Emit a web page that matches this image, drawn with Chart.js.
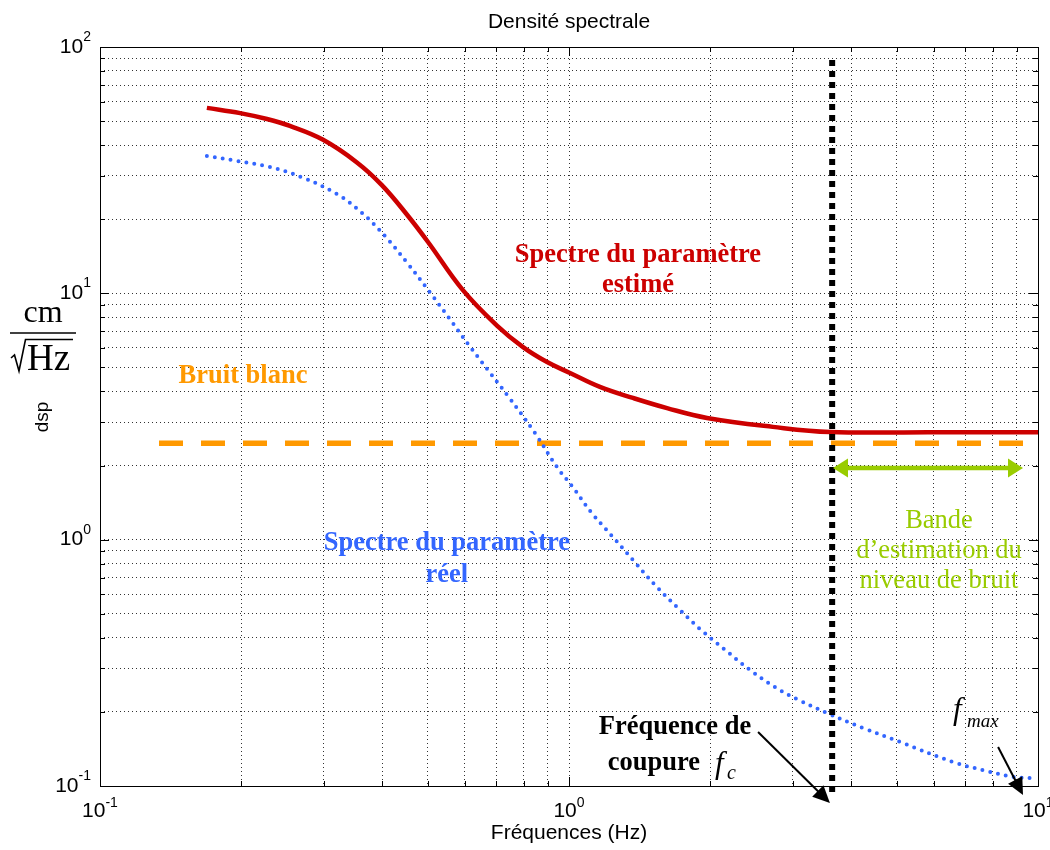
<!DOCTYPE html>
<html>
<head>
<meta charset="utf-8">
<title>Densité spectrale</title>
<script src="https://cdn.jsdelivr.net/npm/chart.js@4.4.1/dist/chart.umd.min.js"></script>
<style>
  html, body { margin: 0; padding: 0; background: #fff; }
</style>
</head>
<body>
<canvas id="dsp" width="1050" height="850"></canvas>
<script>
// spectre du paramètre estimé (Hz, cm/sqrt(Hz))
const estFreq = [0.169, 0.199, 0.227, 0.254, 0.299, 0.353, 0.399, 0.452, 0.500, 0.594, 0.702, 0.798, 0.898, 1.005, 1.164, 1.369, 1.618, 1.969, 2.72, 3.60, 5.86, 10];
const estDsp  = [56.6, 53.9, 51.0, 47.8, 42.0, 34.0, 27.5, 20.8, 16.2, 10.3, 7.4, 6.05, 5.26, 4.75, 4.17, 3.76, 3.42, 3.12, 2.87, 2.735, 2.73, 2.73];

// spectre du paramètre réel
const realFreq = [0.169, 0.197, 0.230, 0.268, 0.320, 0.362, 0.405, 0.449, 0.505, 0.555, 0.609, 0.669, 0.738, 0.846, 0.943, 1.015, 1.114, 1.235, 1.369, 1.518, 1.699, 1.902, 2.141, 2.420, 2.750, 3.062, 3.549, 4.236, 5.079, 6.59, 7.63, 8.85, 9.61];
const realDsp  = [36.1, 34.4, 32.6, 29.7, 25.3, 21.2, 17.1, 13.5, 10.1, 7.94, 6.23, 4.93, 3.87, 2.71, 1.97, 1.65, 1.295, 1.035, 0.827, 0.661, 0.533, 0.434, 0.360, 0.298, 0.252, 0.2254, 0.1978, 0.172, 0.151, 0.1251, 0.1161, 0.1088, 0.1077];

// bruit blanc
const whiteFreq = [0.1336, 9.29];
const whiteDsp  = [2.46, 2.46];

// fréquence de coupure fc
const cutFreq = [3.64, 3.64];
const cutDsp  = [88.5, 0.092];

// bande d'estimation du niveau de bruit
const bandFreq = [3.655, 9.29];
const bandDsp  = [1.954, 1.954];

// flèches (départ -> pointe)
const fcArrowFreq   = [2.53, 3.60];
const fcArrowDsp    = [0.1656, 0.0853];
const fmaxArrowFreq = [8.22, 9.29];
const fmaxArrowDsp  = [0.144, 0.0919];

// axes
const xDecades = [0.1, 1, 10];
const xExponents = ['-1', '0', '1'];
const yDecades = [0.1, 1, 10, 100];
const yExponents = ['-1', '0', '1', '2'];
const minorSteps = [1, 2, 3, 4, 5, 6, 7, 8, 9];

const pts = (xs, ys) => xs.map((x, i) => ({ x: x, y: ys[i] }));

function gridValues(decades) {
  const out = [];
  decades.forEach((d, i) => {
    if (i === decades.length - 1) { out.push(d); return; }
    minorSteps.forEach(m => out.push(+(d * m).toPrecision(6)));
  });
  return out;
}

const SANS = '"Liberation Sans", Arial, sans-serif';
const SERIF = '"Liberation Serif", "Times New Roman", serif';

// text labels drawn on the plot, anchored in data coordinates
const notes = [
  { lines: ['Spectre du paramètre', 'estimé'], f: 1.403, v: 14.31, color: '#cc0000', font: 'bold 26.5px ' + SERIF, lh: 30 },
  { lines: ['Spectre du paramètre', 'réel'], f: 0.549, v: 0.969, color: '#3366ff', font: 'bold 26.5px ' + SERIF, lh: 32 },
  { lines: ['Bruit blanc'], f: 0.2018, v: 4.62, color: '#ff9900', font: 'bold 26.5px ' + SERIF, lh: 30 },
  { lines: ['Bande', 'd\u2019estimation du', 'niveau de bruit'], f: 6.15, v: 1.19, color: '#99cc00', font: '26.5px ' + SERIF, lh: 30 }
];

function arrow(ctx, x0, y0, x1, y1, opt) {
  const a = Math.atan2(y1 - y0, x1 - x0);
  const c = Math.cos(a), s = Math.sin(a);
  const sx = opt.both ? x0 + c * opt.len : x0, sy = opt.both ? y0 + s * opt.len : y0;
  ctx.save();
  ctx.strokeStyle = opt.color;
  ctx.fillStyle = opt.color;
  ctx.lineWidth = opt.width;
  ctx.beginPath();
  ctx.moveTo(sx, sy);
  ctx.lineTo(x1 - c * opt.len * 0.9, y1 - s * opt.len * 0.9);
  ctx.stroke();
  const head = (tx, ty, dc, ds) => {
    ctx.beginPath();
    ctx.moveTo(tx, ty);
    ctx.lineTo(tx - dc * opt.len - ds * opt.half, ty - ds * opt.len + dc * opt.half);
    ctx.lineTo(tx - dc * opt.len + ds * opt.half, ty - ds * opt.len - dc * opt.half);
    ctx.closePath();
    ctx.fill();
  };
  head(x1, y1, c, s);
  if (opt.both) head(x0, y0, -c, -s);
  ctx.restore();
}

function powerLabel(ctx, x, y, exp, align, supDy) {
  ctx.font = '21px ' + SANS;
  const wb = ctx.measureText('10').width;
  ctx.font = '14px ' + SANS;
  const we = ctx.measureText(exp).width;
  const left = align === 'right' ? x - wb - we : x - (wb + we) / 2;
  ctx.textAlign = 'left';
  ctx.textBaseline = 'middle';
  ctx.font = '21px ' + SANS;
  ctx.fillText('10', left, y);
  ctx.font = '14px ' + SANS;
  ctx.fillText(exp, left + wb, y + supDy);
}

const matlabLook = {
  id: 'matlabLook',
  afterDatasetsDraw(chart) {
    const { ctx, chartArea: a, scales: { x, y } } = chart;
    ctx.save();
    // inward tick marks on the four sides
    ctx.strokeStyle = '#000';
    ctx.lineWidth = 1;
    ctx.beginPath();
    gridValues(xDecades).forEach(v => {
      const px = Math.round(x.getPixelForValue(v)) + 0.5;
      const len = xDecades.includes(v) ? 9 : 5;
      ctx.moveTo(px, a.bottom); ctx.lineTo(px, a.bottom - len);
      ctx.moveTo(px, a.top); ctx.lineTo(px, a.top + len);
    });
    gridValues(yDecades).forEach(v => {
      const py = Math.round(y.getPixelForValue(v)) + 0.5;
      const len = yDecades.includes(v) ? 9 : 5;
      ctx.moveTo(a.left, py); ctx.lineTo(a.left + len, py);
      ctx.moveTo(a.right, py); ctx.lineTo(a.right - len, py);
    });
    ctx.stroke();
    ctx.strokeRect(Math.round(a.left) + 0.5, Math.round(a.top) + 0.5, Math.round(a.right - a.left), Math.round(a.bottom - a.top));
    ctx.restore();

    // band arrow and the two black arrows
    const P = (f, v) => [x.getPixelForValue(f), y.getPixelForValue(v)];
    const b0 = P(bandFreq[0], bandDsp[0]), b1 = P(bandFreq[1], bandDsp[1]);
    arrow(ctx, b0[0], b0[1], b1[0], b1[1], { color: '#99cc00', width: 4.5, len: 15, half: 9.5, both: true });
    const c0 = P(fcArrowFreq[0], fcArrowDsp[0]), c1 = P(fcArrowFreq[1], fcArrowDsp[1]);
    arrow(ctx, c0[0], c0[1], c1[0], c1[1], { color: '#000', width: 2, len: 17, half: 8 });
    const m0 = P(fmaxArrowFreq[0], fmaxArrowDsp[0]), m1 = P(fmaxArrowFreq[1], fmaxArrowDsp[1]);
    arrow(ctx, m0[0], m0[1], m1[0], m1[1], { color: '#000', width: 2, len: 17, half: 8 });
  },
  afterDraw(chart) {
    const { ctx, chartArea: a, scales: { x, y } } = chart;
    ctx.save();
    ctx.fillStyle = '#000';
    // tick labels 10^n
    xDecades.forEach((d, i) => powerLabel(ctx, x.getPixelForValue(d), a.bottom + 25, xExponents[i], 'center', -8));
    yDecades.forEach((d, i) => powerLabel(ctx, a.left - 9, y.getPixelForValue(d), yExponents[i], 'right', -10));

    // title and axis labels
    ctx.textAlign = 'center';
    ctx.textBaseline = 'middle';
    ctx.font = '21px ' + SANS;
    ctx.fillText('Densité spectrale', (a.left + a.right) / 2, 22);
    ctx.fillText('Fréquences (Hz)', (a.left + a.right) / 2, 833);
    ctx.save();
    ctx.translate(43, 417);
    ctx.rotate(-Math.PI / 2);
    ctx.font = '19px ' + SANS;
    ctx.fillText('dsp', 0, 0);
    ctx.restore();

    // unit cm / sqrt(Hz)
    ctx.textBaseline = 'alphabetic';
    ctx.font = '32px ' + SERIF;
    ctx.fillText('cm', 43, 322);
    ctx.lineWidth = 1.5;
    ctx.strokeStyle = '#000';
    ctx.beginPath();
    ctx.moveTo(10, 333); ctx.lineTo(76, 333);
    ctx.stroke();
    ctx.lineWidth = 1.6;
    ctx.beginPath();
    ctx.moveTo(11, 358); ctx.lineTo(14.5, 355); ctx.lineTo(19, 371); ctx.lineTo(25.5, 339.5); ctx.lineTo(73, 339.5);
    ctx.stroke();
    ctx.textAlign = 'left';
    ctx.font = '37px ' + SERIF;
    ctx.fillText('Hz', 27, 370);

    // annotations
    ctx.textAlign = 'center';
    ctx.textBaseline = 'middle';
    notes.forEach(n => {
      ctx.fillStyle = n.color;
      ctx.font = n.font;
      const px = x.getPixelForValue(n.f), py = y.getPixelForValue(n.v);
      n.lines.forEach((t, i) => ctx.fillText(t, px, py + i * n.lh));
    });

    // Fréquence de coupure fc
    ctx.fillStyle = '#000';
    ctx.textBaseline = 'alphabetic';
    const fx = x.getPixelForValue(1.683), fy = y.getPixelForValue(0.1625);
    ctx.font = 'bold 26.5px ' + SERIF;
    ctx.textAlign = 'center';
    ctx.fillText('Fréquence de', fx, fy);
    ctx.textAlign = 'right';
    ctx.fillText('coupure', fx + 25, fy + 36);
    ctx.textAlign = 'left';
    ctx.font = 'italic 31px ' + SERIF;
    ctx.fillText('f', fx + 40, fy + 39);
    ctx.font = 'italic 20px ' + SERIF;
    ctx.fillText('c', fx + 52, fy + 45);

    // f_max
    const mx = x.getPixelForValue(6.59), my = y.getPixelForValue(0.187);
    ctx.font = 'italic 31px ' + SERIF;
    ctx.fillText('f', mx, my);
    ctx.font = 'italic 19px ' + SERIF;
    ctx.fillText('max', mx + 14, my + 8);
    ctx.restore();
  }
};

const logAxis = (min, max, decades) => ({
  type: 'logarithmic',
  min: min,
  max: max,
  afterBuildTicks: axis => { axis.ticks = gridValues(decades).map(v => ({ value: v })); },
  ticks: { display: false },
  grid: { color: '#333', lineWidth: 1, drawTicks: false },
  border: { display: false, dash: [1, 3] }
});

new Chart(document.getElementById('dsp'), {
  type: 'line',
  data: {
    datasets: [
      { label: 'Spectre du paramètre estimé', data: pts(estFreq, estDsp), borderColor: '#cc0000', borderWidth: 4.5, tension: 0.4, order: 3 },
      { label: 'Spectre du paramètre réel', data: pts(realFreq, realDsp), borderColor: '#3366ff', borderWidth: 4, borderDash: [0, 8], borderCapStyle: 'round', tension: 0.4, order: 2 },
      { label: 'Bruit blanc', data: pts(whiteFreq, whiteDsp), borderColor: '#ff9900', borderWidth: 5.5, borderDash: [24, 18], order: 4 },
      { label: 'Fréquence de coupure', data: pts(cutFreq, cutDsp), borderColor: '#000', borderWidth: 6, borderDash: [6, 5], order: 1, clip: false }
    ]
  },
  options: {
    responsive: false,
    animation: false,
    devicePixelRatio: 1,
    layout: { padding: { left: 100, top: 47, right: 12, bottom: 64 } },
    elements: { point: { radius: 0 } },
    plugins: { legend: { display: false }, tooltip: { enabled: false }, title: { display: false } },
    scales: {
      x: logAxis(0.1, 10, xDecades),
      y: logAxis(0.1, 100, yDecades)
    }
  },
  plugins: [matlabLook]
});
</script>
</body>
</html>
